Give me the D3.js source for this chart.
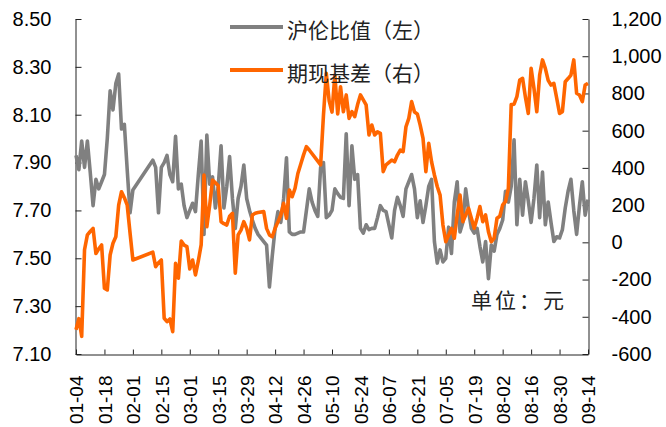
<!DOCTYPE html>
<html><head><meta charset="utf-8">
<script src="https://cdn.jsdelivr.net/npm/d3@7"></script>
<style>body{margin:0;background:#fff}svg{display:block}</style>
</head><body>
<svg id="chart" width="666" height="427"></svg>
<script>
// ---- data ----
const startDate = "2019-01-04";
const endDate = "2019-09-13";
const tickLabels = ["01-04","01-18","02-01","02-15","03-01","03-15","03-29","04-12","04-26","05-10","05-24","06-07","06-21","07-05","07-19","08-02","08-16","08-30","09-14"];
const leftTicks = [7.10,7.30,7.50,7.70,7.90,8.10,8.30,8.50];
const rightTicks = [-600,-400,-200,0,200,400,600,800,1000,1200];
const seriesNames = ["沪伦比值（左）","期现基差（右）"];
const unitLabel = "单位：元";
// 沪伦比值 (left axis), one value per weekday, null = no data
const ratio = [
7.93,7.87,7.99,7.88,7.99,7.86,7.72,7.83,7.79,7.82,
7.85,8.00,8.20,8.12,8.23,8.27,8.04,8.06,7.87,7.69,
7.785,null,null,null,null,null,null,7.91,7.88,7.69,
7.88,7.90,7.93,7.85,7.82,8.01,7.79,7.81,7.72,7.67,
7.70,7.73,7.695,7.85,7.99,7.60,8.015,7.81,7.84,7.71,
7.80,7.97,7.71,7.80,7.925,7.75,7.625,7.75,7.80,7.89,
7.75,7.70,7.66,7.625,7.60,null,7.57,7.555,7.38,7.51,
7.625,7.695,7.65,7.75,7.92,7.61,7.60,7.60,7.605,7.61,
7.61,7.70,7.79,7.735,7.70,7.675,7.88,7.90,7.67,7.68,
7.70,7.79,7.77,7.755,7.75,8.02,7.72,7.97,7.83,7.85,
7.625,7.605,7.64,7.62,7.625,7.625,7.67,7.72,7.70,7.695,
null,7.585,7.70,7.755,7.72,7.675,7.79,7.82,7.85,7.79,
7.67,7.74,7.65,7.72,7.80,7.83,7.57,7.48,7.535,7.485,
7.50,7.63,7.52,7.735,7.82,7.61,7.65,7.79,7.70,7.625,
7.605,7.625,7.55,7.485,7.57,7.415,7.555,7.53,7.60,7.625,
7.66,7.78,7.735,7.80,7.995,7.64,7.83,7.68,7.82,7.74,
7.65,7.75,7.89,7.67,7.86,7.64,7.735,7.65,7.57,7.59,
7.585,7.62,7.71,7.78,7.83,7.70,7.60,7.72,7.82,7.68,
7.745];
// 期现基差 (right axis, 元)
const basis = [
-470,-410,-505,-40,40,58,75,-60,-35,-14,
-247,-256,-68,-5,30,200,272,240,200,50,
-95,null,null,null,null,null,null,-53,-131,-110,
-95,-408,-426,-412,-480,-113,-193,7,-15,-23,
-143,-95,-175,-100,-14,362,84,200,335,320,
304,111,100,93,140,156,-166,40,66,111,
75,13,147,156,160,null,165,75,40,30,
75,110,147,210,129,281,245,290,370,420,
470,514,496,null,null,null,416,684,908,760,
700,899,690,836,702,792,666,702,675,740,
792,765,738,577,630,577,594,586,380,416,
null,442,433,469,496,487,621,666,756,700,
690,630,559,380,532,433,362,300,254,93,
3,39,75,22,147,254,111,147,183,129,
75,130,192,111,147,57,3,22,129,140,
201,219,290,740,742,783,872,881,780,693,
935,828,702,899,980,935,870,845,854,774,
693,702,863,880,899,980,801,792,756,845,
854];

// ---- layout ----
const svg = d3.select("#chart");
const parse = d3.timeParse("%Y-%m-%d");
const fmtDay = d3.timeFormat("%m-%d");
const categories = d3.timeDay.range(parse(startDate), d3.timeDay.offset(parse(endDate), 1))
  .filter(d => d.getDay() !== 0 && d.getDay() !== 6).map(fmtDay);

const L = 76, R = 588, T = 19, B = 354;
const x = d3.scalePoint().domain(categories).range([L, R]);
const yL = d3.scaleLinear().domain([7.1, 8.5]).range([B, T]);
const yR = d3.scaleLinear().domain([-600, 1200]).range([B, T]);

const numFont = "'Liberation Sans', Arial, sans-serif";
const cjkFont = "'Noto Sans CJK SC', sans-serif";

function styleAxis(g) {
  g.select(".domain").attr("stroke", "#222").attr("stroke-width", 1);
  g.selectAll(".tick line").attr("stroke", "#222").attr("stroke-width", 1);
  g.selectAll("text").attr("fill", "#000").style("font-family", numFont);
}

svg.append("g").attr("transform", `translate(${L - 0.5},0)`)
  .call(d3.axisLeft(yL).tickValues(leftTicks).tickFormat(d3.format(".2f"))
    .tickSize(-6).tickSizeOuter(0).tickPadding(24))
  .call(styleAxis)
  .call(g => g.selectAll("text").style("font-size", "20px"));

const fmtR = v => d3.format(",")(v).replace("\u2212", "-");
svg.append("g").attr("transform", `translate(${R + 0.5},0)`)
  .call(d3.axisRight(yR).tickValues(rightTicks).tickFormat(fmtR)
    .tickSize(-6).tickSizeOuter(0).tickPadding(23))
  .call(styleAxis)
  .call(g => g.selectAll("text").style("font-size", "20px"));

const xTicks = categories.filter((c, i) => i % 10 === 0);
svg.append("g").attr("transform", `translate(0,${B + 0.5})`)
  .call(d3.axisBottom(x).tickValues(xTicks).tickFormat((d, i) => tickLabels[i])
    .tickSize(-5).tickSizeOuter(0))
  .call(styleAxis)
  .call(g => g.selectAll("text")
    .style("font-size", "19px")
    .attr("text-anchor", "end")
    .attr("transform", "rotate(-90)")
    .attr("x", -21).attr("y", 0).attr("dy", "0.36em"));

// ---- lines ----
const series = [
  { values: ratio, y: yL, color: "#808080" },
  { values: basis, y: yR, color: "#FF6600" }
];
series.forEach(s => {
  const pts = categories.map((c, i) => ({ c, v: s.values[i] })).filter(d => d.v != null);
  svg.append("path").datum(pts)
    .attr("fill", "none").attr("stroke", s.color).attr("stroke-width", 3.6)
    .attr("stroke-linejoin", "round")
    .attr("d", d3.line().x(d => x(d.c)).y(d => s.y(d.v)));
});

// ---- legend ----
const legendY = [27, 70];
series.forEach((s, i) => {
  svg.append("line").attr("x1", 230).attr("x2", 283)
    .attr("y1", legendY[i]).attr("y2", legendY[i])
    .attr("stroke", s.color).attr("stroke-width", 4);
  svg.append("text").attr("x", 287).attr("y", legendY[i] + 11)
    .style("font-family", cjkFont).style("font-size", "21px").attr("fill", "#222")
    .text(seriesNames[i]);
});
svg.append("text").attr("x", 471).attr("y", 308)
  .style("font-family", cjkFont).style("font-size", "21px").attr("fill", "#222")
  .style("letter-spacing", "3px")
  .text(unitLabel);
</script>
</body></html>
